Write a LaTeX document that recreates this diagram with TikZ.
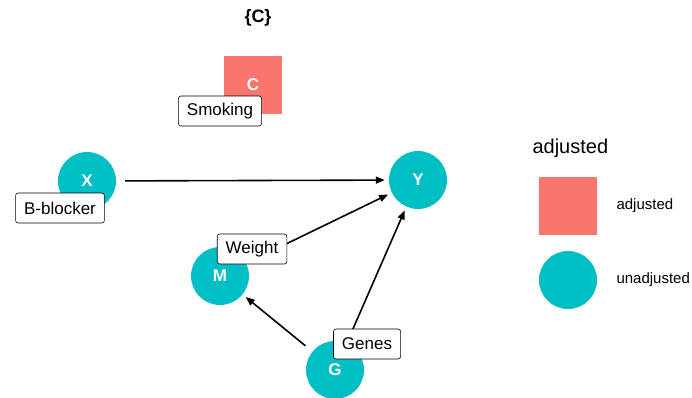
\documentclass[tikz,border=0pt]{standalone}
\usepackage{fontspec}
\setmainfont{Liberation Sans}
\usetikzlibrary{arrows.meta}
\definecolor{adjc}{HTML}{F8766D}
\definecolor{unadjc}{HTML}{00BFC4}
\tikzset{
  unadj/.style={circle, fill=unadjc, minimum size=58pt, inner sep=0pt, text=white, font=\fontsize{17}{17}\selectfont\bfseries},
  adj/.style={rectangle, fill=adjc, minimum size=58pt, inner sep=0pt, text=white, font=\fontsize{17}{17}\selectfont\bfseries},
  edge/.style={draw=black, line width=1.6pt, -{Triangle[length=9pt,width=7pt]}, shorten <=9pt, shorten >=4pt},
  lab/.style={draw=black, fill=white, rounded corners=2.5pt, line width=0.6pt, inner xsep=8.5pt, minimum height=30pt, font=\fontsize{17}{17}\selectfont},
  legtext/.style={anchor=west, font=\fontsize{15}{15}\selectfont},
}

\begin{document}
\begin{tikzpicture}[x=1pt, y=-1pt]
  \useasboundingbox (0,0) rectangle (692,397);
  % title
  \node[font=\fontsize{18}{18}\selectfont\bfseries] (title) at (258,18) {\{C\}};
  % dag nodes
  \node[adj] (C) at (253,85) {C};
  \node[unadj] (X) at (87,181) {X};
  \node[unadj] (Y) at (418,180) {Y};
  \node[unadj] (M) at (220,276) {M};
  \node[unadj] (G) at (335,370) {G};
  % edges
  \draw[edge] (X) -- (Y);
  \draw[edge] (M) -- (Y);
  \draw[edge] (G) -- (M);
  \draw[edge] (G) -- (Y);
  % labels
  \node[lab] (smoking) at (220,111) {Smoking};
  \node[lab] (bblocker) at (60,208) {B-blocker};
  \node[lab] (weight) at (252,249) {Weight};
  \node[lab] (genes) at (367,344) {Genes};
  % legend
  \node[anchor=west, font=\fontsize{20}{20}\selectfont] (legtitle) at (529,148) {adjusted};
  \node[adj] (legadj) at (568,206) {};
  \node[unadj] (legunadj) at (568,280) {};
  \node[legtext] (legadjtext) at (613,206) {adjusted};
  \node[legtext] (legunadjtext) at (613,280) {unadjusted};
\end{tikzpicture}
\end{document}
